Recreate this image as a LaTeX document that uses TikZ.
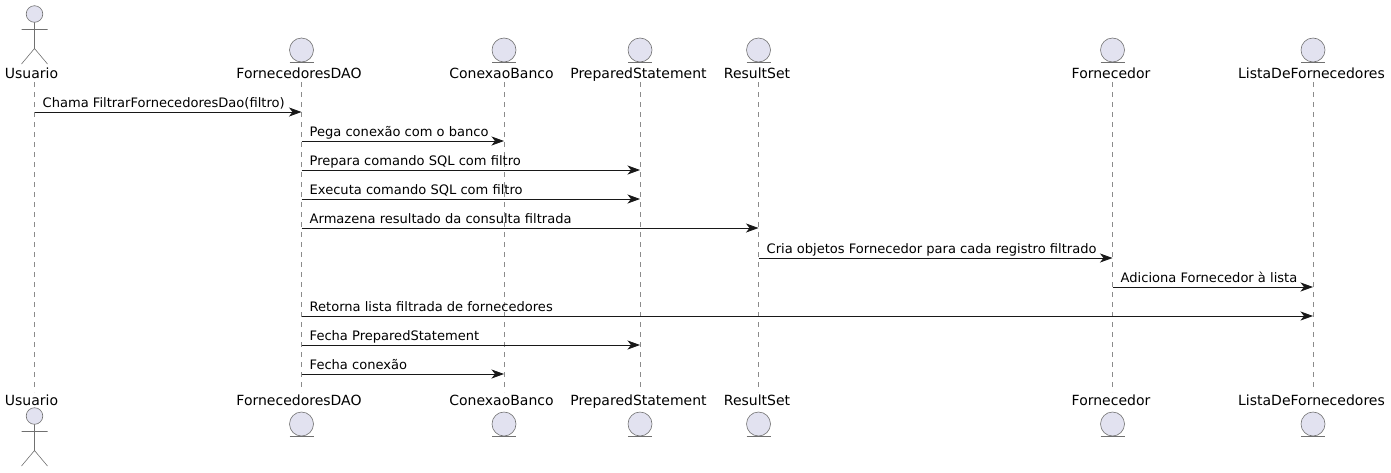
\documentclass[tikz,border=0pt]{standalone}
\usepackage{fontspec}
\setmainfont{DejaVu Sans}
\usetikzlibrary{positioning,arrows.meta,calc}
\definecolor{ink}{HTML}{181818}
\definecolor{partbg}{HTML}{E2E2F0}
\tikzset{
  part/.style={font=\fontsize{14}{16}\selectfont,text=black,inner sep=0pt,anchor=base},
  life/.style={draw=ink!50,line width=0.5pt,dash pattern=on 5pt off 5pt},
  shp/.style={draw=ink!62,line width=0.6pt,fill=partbg},
  stick/.style={draw=ink!62,line width=0.6pt},
  msg/.style={-{Stealth[length=12.5pt,width=9pt,inset=3.5pt]},draw=ink,line width=0.8pt},
  lbl/.style={font=\fontsize{13.05}{15}\selectfont,text=black,inner sep=0pt,anchor=base west},
  actorpic/.pic={
    \draw[shp] (0,-9) circle (8.3);
    \draw[stick] (0,-0.7) -- (0,25.5) (-13,6.5) -- (13,6.5)
      (-13,41) -- (0,25.5) -- (13,41);
  },
  entitypic/.pic={
    \draw[shp] (0,0) circle (12);
    \draw[stick] (-12,12.7) -- (12,12.7);
  },
}
\begin{document}
\begin{tikzpicture}[x=1pt,y=-1pt]
  \useasboundingbox (0,0) rectangle (1391,472);
  % top row
  \node[part] (usrT) at (31.5,78) {Usuario};
  \node[part] (daoT) at (299,78) {FornecedoresDAO};
  \node[part] (conT) at (501.5,78) {ConexaoBanco};
  \node[part] (stmT) at (638.5,78) {PreparedStatement};
  \node[part] (resT) at (757,78) {ResultSet};
  \node[part] (forT) at (1111,78) {Fornecedor};
  \node[part] (lisT) at (1311.5,78) {ListaDeFornecedores};
  % bottom row
  \node[part] (usrB) at (31.5,405) {Usuario};
  \node[part] (daoB) at (299,405) {FornecedoresDAO};
  \node[part] (conB) at (501.5,405) {ConexaoBanco};
  \node[part] (stmB) at (638.5,405) {PreparedStatement};
  \node[part] (resB) at (757,405) {ResultSet};
  \node[part] (forB) at (1111,405) {Fornecedor};
  \node[part] (lisB) at (1311.5,405) {ListaDeFornecedores};
  % lifelines
  \coordinate (usr) at (34.5,82);
  \coordinate (dao) at (301.5,82);
  \coordinate (con) at (504,82);
  \coordinate (stm) at (640,82);
  \coordinate (res) at (758.5,82);
  \coordinate (for) at (1112.5,82);
  \coordinate (lis) at (1313,82);
  \foreach \n in {usr,dao,con,stm,res,for,lis}{
    \draw[life] (\n) -- (\n |- 0,392);
  }
  % heads
  \pic at (34.5,23) {actorpic};
  \pic at (34.5,425) {actorpic};
  \foreach \n in {dao,con,stm,res,for,lis}{
    \pic at (\n |- 0,50) {entitypic};
    \pic at (\n |- 0,424) {entitypic};
  }
  % messages
  \foreach \a/\b/\y/\t in {
    usr/dao/112/Chama FiltrarFornecedoresDao(filtro),
    dao/con/141/Pega conexão com o banco,
    dao/stm/170/Prepara comando SQL com filtro,
    dao/stm/199/Executa comando SQL com filtro,
    dao/res/228/Armazena resultado da consulta filtrada,
    res/for/258/Cria objetos Fornecedor para cada registro filtrado,
    for/lis/287/Adiciona Fornecedor à lista,
    dao/lis/316/Retorna lista filtrada de fornecedores,
    dao/stm/345/Fecha PreparedStatement,
    dao/con/374/Fecha conexão}{
    \draw[msg] (\a |- 0,\y) -- (\b |- 0,\y);
    \node[lbl] (m\y) at ($(\a |- 0,\y)+(8,-5)$) {\t};
  }
\end{tikzpicture}
\end{document}
